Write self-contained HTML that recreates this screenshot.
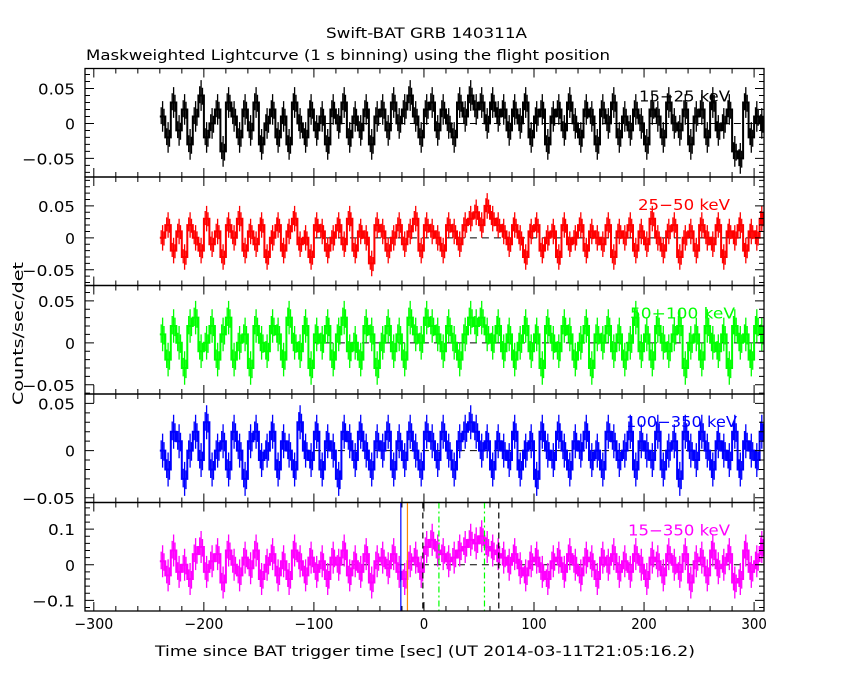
<!DOCTYPE html>
<html><head><meta charset="utf-8"><style>
body{margin:0;background:#fff;}
svg text{font-family:"DejaVu Sans","Liberation Sans",sans-serif;}
</style></head><body>
<svg id="c" width="850" height="680" xmlns="http://www.w3.org/2000/svg">
<text x="326" y="38" textLength="201" lengthAdjust="spacingAndGlyphs" font-size="14">Swift-BAT GRB 140311A</text>
<text x="86" y="60" textLength="524" lengthAdjust="spacingAndGlyphs" font-size="14">Maskweighted Lightcurve (1 s binning) using the flight position</text>
<text transform="translate(23,405) rotate(-90)" textLength="143" lengthAdjust="spacingAndGlyphs" font-size="14">Counts/sec/det</text>
<text x="155" y="656" textLength="540" lengthAdjust="spacingAndGlyphs" font-size="14">Time since BAT trigger time [sec] (UT 2014-03-11T21:05:16.2)</text>
</svg>
<script>
const tStart=-240, tStep=5;
const xTicks=[-300,-200,-100,0,100,200,300];
const bandLabels=["15\u221225 keV","25\u221250 keV","50\u2212100 keV","100\u2212350 keV","15\u2212350 keV"];
const s1=[0.01,-0.02,0.03,-0.01,0.02,-0.03,0.01,0.04,-0.02,0.00,0.02,-0.04,0.03,0.01,-0.02,0.02,-0.01,0.03,-0.03,0.00,0.02,-0.02,0.01,-0.03,0.03,0.00,-0.02,0.02,-0.01,0.01,-0.03,0.02,0.00,0.03,-0.02,0.01,-0.01,0.02,-0.03,0.01,0.02,-0.01,0.03,0.00,0.02,0.04,0.01,-0.02,0.02,0.03,-0.01,0.02,0.00,-0.02,0.03,0.01,0.04,0.02,0.03,0.00,0.03,0.01,0.02,-0.01,0.02,0.00,0.03,-0.02,0.01,0.02,-0.03,0.01,0.02,-0.01,0.03,0.00,-0.02,0.02,0.01,-0.03,0.02,0.00,0.03,-0.02,0.01,-0.01,0.02,0.00,-0.03,0.02,0.01,-0.02,0.03,0.00,-0.01,0.02,-0.03,0.01,0.02,-0.02,0.03,-0.01,0.00,0.02,-0.04,-0.05,0.03,-0.02,0.01,0.00];
const s2=[0.00,0.02,-0.02,0.01,-0.03,0.02,0.00,-0.02,0.03,-0.01,0.01,-0.03,0.02,0.00,0.03,-0.02,0.01,-0.01,0.02,-0.03,0.00,0.02,-0.02,0.01,0.03,-0.01,0.00,-0.03,0.02,0.01,-0.02,0.00,0.02,-0.01,0.03,-0.02,0.01,0.00,-0.04,0.02,0.01,-0.02,0.00,0.02,-0.01,0.01,0.03,-0.02,0.02,0.01,0.00,-0.02,0.02,0.01,-0.01,0.02,0.03,0.04,0.02,0.05,0.03,0.02,0.01,-0.01,0.02,0.00,-0.03,0.01,0.02,-0.02,0.00,0.01,-0.03,0.02,-0.01,0.00,0.02,-0.02,0.01,0.00,-0.01,0.02,-0.03,0.01,0.00,0.02,-0.02,0.01,-0.01,0.03,0.00,-0.02,0.01,0.02,-0.03,0.00,0.01,-0.02,0.02,0.00,-0.01,0.02,-0.03,0.01,0.00,0.02,-0.02,0.01,0.00,0.03];
const s3=[0.01,-0.02,0.02,0.00,-0.03,0.02,0.03,-0.01,0.00,0.02,-0.02,0.01,0.03,-0.02,0.00,0.01,-0.03,0.02,0.00,-0.01,0.02,0.01,-0.02,0.03,0.00,-0.01,0.02,-0.03,0.01,0.00,0.02,-0.02,0.01,0.03,-0.01,0.00,-0.02,0.02,0.01,-0.03,0.00,0.02,-0.01,0.01,-0.02,0.03,0.01,0.00,0.03,0.02,0.01,-0.01,0.02,0.00,-0.02,0.01,0.03,0.02,0.03,0.01,0.00,0.02,-0.01,0.01,-0.02,0.00,0.02,-0.01,0.01,-0.03,0.02,0.00,-0.01,0.02,0.01,-0.02,0.00,0.02,-0.03,0.01,0.00,0.02,-0.01,0.01,-0.02,0.00,0.03,-0.01,0.01,-0.02,0.02,0.00,-0.01,0.01,0.02,-0.03,0.00,0.01,-0.02,0.02,0.00,-0.01,0.01,-0.03,0.02,0.00,0.01,-0.02,0.02,0.01];
const s4=[0.00,-0.02,0.02,0.01,-0.03,0.00,0.02,-0.01,0.03,-0.02,0.00,0.01,-0.02,0.02,0.00,-0.03,0.01,0.02,-0.01,0.00,0.02,-0.02,0.01,0.00,-0.02,0.03,0.00,-0.01,0.02,-0.02,0.01,0.00,-0.03,0.02,0.01,-0.01,0.02,0.00,-0.02,0.01,0.00,0.02,-0.02,0.01,-0.01,0.02,0.00,-0.02,0.02,0.01,-0.01,0.02,0.00,-0.02,0.01,0.02,0.03,0.02,0.00,0.01,-0.02,0.01,0.00,-0.01,0.02,-0.02,0.00,0.01,-0.03,0.02,0.00,-0.01,0.02,0.00,-0.02,0.01,0.00,0.02,-0.01,0.00,-0.02,0.02,0.01,-0.01,0.00,0.02,-0.02,0.01,0.00,-0.01,0.02,-0.02,0.00,0.01,-0.03,0.02,0.00,-0.01,0.02,0.00,-0.02,0.01,0.00,-0.01,0.02,-0.02,0.01,0.00,-0.01,0.02];
const s5=[0.01,-0.03,0.04,-0.02,0.00,-0.04,0.03,0.05,-0.02,0.01,0.03,-0.05,0.04,0.00,-0.03,0.02,-0.01,0.04,-0.04,0.00,0.03,-0.03,0.01,-0.04,0.04,0.01,-0.03,0.02,-0.02,0.01,-0.04,0.02,0.00,0.04,-0.03,0.01,-0.02,0.03,-0.05,0.01,0.02,-0.01,0.03,-0.02,-0.04,0.01,0.02,-0.02,0.05,0.07,0.04,0.03,0.01,0.02,0.04,0.05,0.07,0.06,0.08,0.05,0.04,0.03,0.02,0.00,0.03,-0.01,-0.03,0.01,0.02,-0.02,-0.04,0.01,0.02,-0.02,0.03,0.00,-0.03,0.02,0.01,-0.04,0.02,0.00,0.03,-0.02,0.01,-0.02,0.03,0.00,-0.04,0.02,0.01,-0.03,0.03,0.00,-0.02,0.03,-0.05,0.01,0.02,-0.03,0.04,-0.01,0.00,0.03,-0.05,-0.04,0.04,-0.02,0.01,0.05];
const errs=[0.022,0.02,0.02,0.018,0.045];
const series=[s1,s2,s3,s4,s5];
const colors=["#000","#f00","#0f0","#00f","#f0f"];
const yDomains=[[-0.0766,0.0786],[-0.0746,0.0952],[-0.061,0.0683],[-0.055,0.06],[-0.13,0.175]];
const yMajor=[[-0.05,0,0.05],[-0.05,0,0.05],[-0.05,0,0.05],[-0.05,0,0.05],[-0.1,0,0.1]];
const yMinorStep=[0.01,0.01,0.01,0.01,0.02];
const markerTimes=[-21,-15,-1,68,13.6,55];
const markerColors=["#00f","#f80","#000","#000","#0f0","#0f0"];
const markerDash=["","","6,4","6,4","6,3,2,3","6,3,2,3"];

const svg=document.getElementById('c');
const NS="http://www.w3.org/2000/svg";
const L=85,R=764,xMin=-308,xMax=309;
const tops=[68.5,177,285.5,394,502.5],H=108.5;
const X=t=>L+(t-xMin)/(xMax-xMin)*(R-L);
const labelW=[91,92,105,111,102];
function tw(s){let w=0;for(const c of s){w+=c==='\u2212'?16:(c==='.'?7:10);}return w;}
function mk(tag,a,p){const e=document.createElementNS(NS,tag);for(const k in a)e.setAttribute(k,a[k]);(p||svg).appendChild(e);return e;}
for(let p=0;p<5;p++){
  const top=tops[p],bot=top+H,[y0,y1]=yDomains[p];
  const Y=v=>bot-(v-y0)/(y1-y0)*H;
  const g=mk('g',{});
  
  
  const z=mk('line',{x1:X(-100),x2:R,y1:Y(0),y2:Y(0),stroke:'#000','stroke-dasharray':'7,5','stroke-width':1},g);
  
  
  const s=series[p];let d='',e='';
  for(let i=0;i<s.length;i++){
    const t=tStart+i*tStep,xa=X(t),xb=X(Math.min(t+tStep,xMax)),xm=(xa+xb)/2,y=Y(s[i]);
    d+=(i?'L':'M')+xa.toFixed(1)+','+y.toFixed(1)+'L'+xb.toFixed(1)+','+y.toFixed(1);
    const yt=Math.max(top,Y(s[i]+errs[p])),yb=Math.min(bot,Y(s[i]-errs[p]));
    e+='M'+xm.toFixed(1)+','+yt.toFixed(1)+'V'+yb.toFixed(1);
    const xq=(xa+xm)/2,xr=(xm+xb)/2;
    e+='M'+xq.toFixed(1)+','+Y(s[i]+errs[p]*0.6).toFixed(1)+'V'+Y(s[i]-errs[p]*0.5).toFixed(1);
    e+='M'+xr.toFixed(1)+','+Y(s[i]+errs[p]*0.5).toFixed(1)+'V'+Y(s[i]-errs[p]*0.6).toFixed(1);
  }
  const eb=mk('path',{d:e,stroke:colors[p],'stroke-width':1.3,fill:'none'},g);
  
  
  const ln=mk('path',{d:d,stroke:colors[p],'stroke-width':2,fill:'none'},g);
  
  
  if(p===4){
    for(let m=0;m<markerTimes.length;m++){
      const ml=mk('line',{x1:X(markerTimes[m]),x2:X(markerTimes[m]),y1:top,y2:bot,stroke:markerColors[m],'stroke-width':1.2,'stroke-dasharray':markerDash[m]},g);
      
      
    }
  }
  const fr=mk('rect',{x:L,y:top,width:R-L,height:H,fill:'none',stroke:'#000','stroke-width':1.3},g);
  
  
  let tk='';
  for(let t=-300;t<=300;t+=20){const big=t%100===0,l=big?9:5,x=X(t);tk+='M'+x+','+bot+'v'+(-l)+'M'+x+','+top+'v'+l;}
  const n0=Math.ceil(y0/yMinorStep[p]),n1=Math.floor(y1/yMinorStep[p]);
  for(let n=n0;n<=n1;n++){const v=n*yMinorStep[p],y=Y(v),big=yMajor[p].some(m=>Math.abs(m-v)<1e-9),l=big?9:5;tk+='M'+L+','+y+'h'+l+'M'+R+','+y+'h'+(-l);}
  const tp=mk('path',{d:tk,stroke:'#000','stroke-width':1,fill:'none'},g);
  
  
  for(const v of yMajor[p]){
    const str=v===0?'0':String(v).replace('-','\u2212');
    const tx=mk('text',{x:L-10-tw(str),y:Y(v)+6,'font-size':15,textLength:tw(str),lengthAdjust:'spacingAndGlyphs'},g);
    tx.textContent=str;
    
    
  }
  const bl=mk('text',{x:(p===3?737:(p===2?735:730))-labelW[p],y:top+33,'font-size':15,fill:colors[p],textLength:labelW[p],lengthAdjust:'spacingAndGlyphs'},g);
  bl.textContent=bandLabels[p];
  
  
}
for(const t of xTicks){
  const str=String(t).replace('-','\u2212');
  const w=tw(str)*0.85;
  const tx=mk('text',{x:X(t)-w/2,y:629,'font-size':15,textLength:w,lengthAdjust:'spacingAndGlyphs'});
  tx.textContent=str;
  
  
}
</script>
</body></html>
